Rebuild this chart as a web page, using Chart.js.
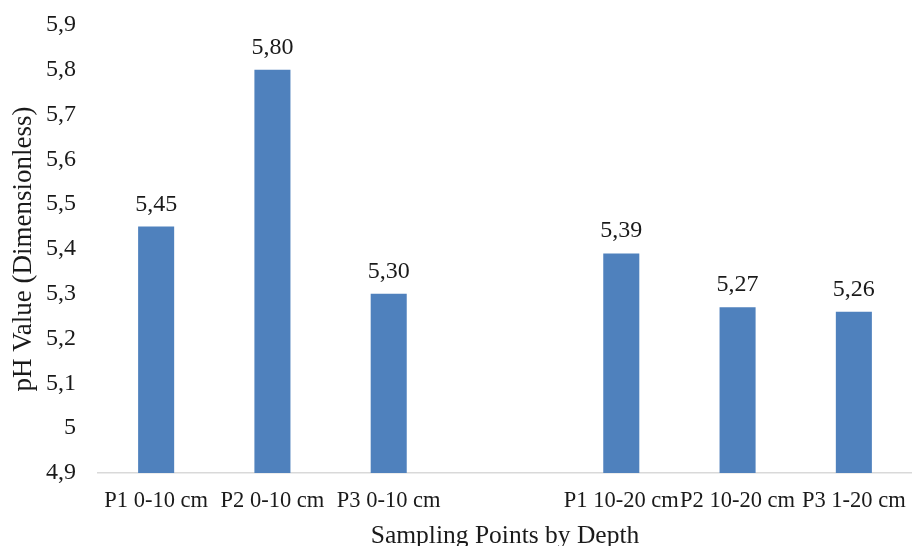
<!DOCTYPE html>
<html>
<head>
<meta charset="utf-8">
<script src="https://cdn.jsdelivr.net/npm/chart.js@4.4.1/dist/chart.umd.min.js"></script>
<style>
  html, body { margin: 0; padding: 0; background: #ffffff; }
  #wrap { width: 912px; height: 546px; position: relative; }
</style>
</head>
<body>
<div id="wrap"><canvas id="chart" width="912" height="546"></canvas></div>
<script>
// Sampling points (an empty slot separates the two depth groups)
const categories = ['P1 0-10 cm', 'P2 0-10 cm', 'P3 0-10 cm', '', 'P1 10-20 cm', 'P2 10-20 cm', 'P3 1-20 cm'];
// Soil pH per sampling point
const phValues = [5.45, 5.80, 5.30, null, 5.39, 5.27, 5.26];
// Y axis tick labels, bottom to top
const yTickLabels = ['4,9', '5', '5,1', '5,2', '5,3', '5,4', '5,5', '5,6', '5,7', '5,8', '5,9'];

const SERIF = "'Liberation Serif', 'Times New Roman', serif";
const INK = '#1a1a1a';

// Writes each bar's value above it, with a decimal comma
const valueLabels = {
  id: 'valueLabels',
  afterDatasetsDraw(chart) {
    const ctx = chart.ctx;
    const meta = chart.getDatasetMeta(0);
    ctx.save();
    ctx.font = '24px ' + SERIF;
    ctx.fillStyle = INK;
    ctx.textAlign = 'center';
    ctx.textBaseline = 'alphabetic';
    meta.data.forEach((bar, i) => {
      const v = phValues[i];
      if (v === null || v === undefined) return;
      ctx.fillText(v.toFixed(2).replace('.', ','), bar.x, bar.y - 16);
    });
    ctx.restore();
  }
};

new Chart(document.getElementById('chart'), {
  type: 'bar',
  data: {
    labels: categories,
    datasets: [{
      data: phValues,
      backgroundColor: '#4f81bd',
      borderWidth: 0,
      barPercentage: 0.31,
      categoryPercentage: 1.0
    }]
  },
  options: {
    responsive: false,
    animation: false,
    devicePixelRatio: 1,
    layout: { padding: { top: 25, right: 0, bottom: 0, left: 0 } },
    plugins: {
      legend: { display: false },
      tooltip: { enabled: false }
    },
    scales: {
      x: {
        grid: { display: false, drawTicks: false },
        border: { display: true, color: '#d9d9d9', width: 1.5 },
        ticks: {
          color: INK,
          font: { family: SERIF, size: 22.5 },
          maxRotation: 0,
          minRotation: 0,
          autoSkip: false,
          padding: 15
        },
        title: {
          display: true,
          text: 'Sampling Points by Depth',
          color: INK,
          font: { family: SERIF, size: 25.5 },
          padding: { top: 0, bottom: -6 }
        },
        afterFit(scale) {
          scale.height = 73;
          scale.paddingLeft = 0;
          scale.paddingRight = 0;
        }
      },
      y: {
        min: 4.9,
        max: 5.9,
        grid: { display: false, drawTicks: false },
        border: { display: false },
        ticks: {
          stepSize: 0.1,
          color: INK,
          font: { family: SERIF, size: 24 },
          padding: 22,
          callback: (value, index) => yTickLabels[index]
        },
        title: {
          display: true,
          text: 'pH Value (Dimensionless)',
          color: INK,
          font: { family: SERIF, size: 27 },
          padding: { top: 8, bottom: 0 }
        },
        afterFit(scale) {
          scale.width = 98;
          scale.paddingTop = 0;
          scale.paddingBottom = 0;
        }
      }
    }
  },
  plugins: [valueLabels]
});
</script>
</body>
</html>
